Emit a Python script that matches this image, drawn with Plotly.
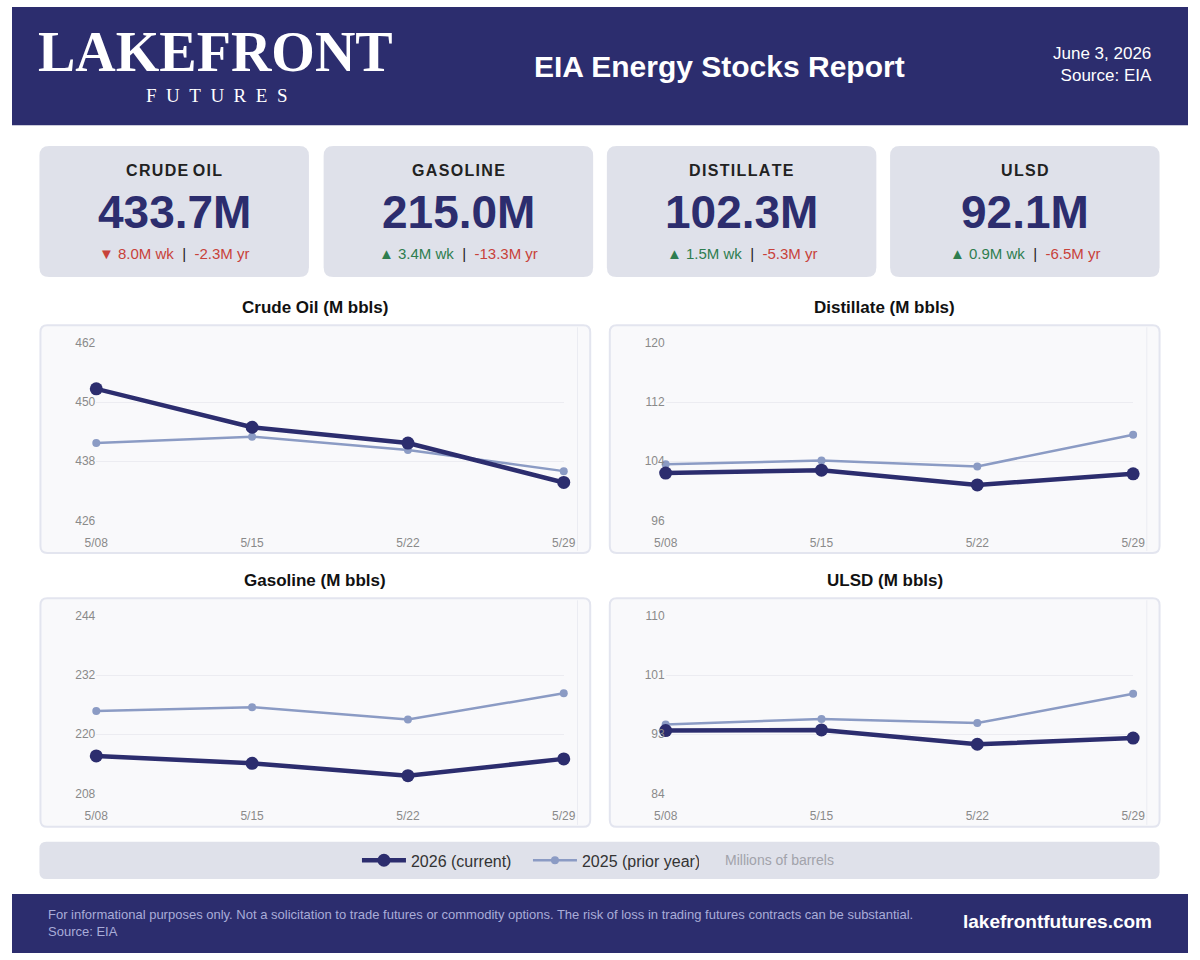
import plotly.graph_objects as go

W, H = 1200, 960

# weekly stocks, millions of barrels
weeks = ['5/08', '5/15', '5/22', '5/29']

crude_2026 = [452.7, 444.9, 441.7, 433.7]
crude_2025 = [441.7, 443.0, 440.3, 436.0]
gasoline_2026 = [215.6, 214.1, 211.6, 215.0]
gasoline_2025 = [224.7, 225.5, 223.0, 228.3]
distillate_2026 = [102.4, 102.8, 100.8, 102.3]
distillate_2025 = [103.6, 104.1, 103.3, 107.6]
ulsd_2026 = [93.2, 93.3, 91.2, 92.1]
ulsd_2025 = [94.1, 94.9, 94.3, 98.6]

kpi_names = ['CRUDE OIL', 'GASOLINE', 'DISTILLATE', 'ULSD']
chart_titles = ['Crude Oil (M bbls)', 'Distillate (M bbls)',
                'Gasoline (M bbls)', 'ULSD (M bbls)']
y_ranges = [[426, 462], [96, 120], [208, 244], [84, 110]]

NAVY = '#2c2d6e'
LIGHT = '#8b9bc4'
RED = '#c8423a'
GREEN = '#2e7d4f'
CARD = '#dfe1ea'
FONT = 'Liberation Sans, Arial, sans-serif'
SERIF = 'Liberation Serif, DejaVu Serif, serif'


def px(x):
    return x / W


def py(y):
    return 1 - y / H


# rounded rectangle path in paper coords, from pixel box
def rrect(x0, y0, x1, y1, r):
    pts = [
        ('M', x0 + r, y0), ('L', x1 - r, y0), ('Q', x1, y0, x1, y0 + r),
        ('L', x1, y1 - r), ('Q', x1, y1, x1 - r, y1), ('L', x0 + r, y1),
        ('Q', x0, y1, x0, y1 - r), ('L', x0, y0 + r), ('Q', x0, y0, x0 + r, y0),
    ]
    out = ''
    for p in pts:
        coords = p[1:]
        s = ' '.join('%.5f,%.5f' % (px(coords[i]), py(coords[i + 1]))
                     for i in range(0, len(coords), 2))
        out += '%s%s ' % (p[0], s)
    return out + 'Z'


fig = go.Figure()
shapes = []
annotations = []

# header / footer bands
shapes.append(dict(type='rect', xref='paper', yref='paper', x0=0, x1=1,
                   y0=py(120), y1=1, fillcolor=NAVY, line_width=0, layer='below'))
shapes.append(dict(type='rect', xref='paper', yref='paper', x0=0, x1=1,
                   y0=0, y1=py(900), fillcolor=NAVY, line_width=0, layer='below'))

annotations.append(dict(x=px(208), y=py(46), xref='paper', yref='paper', xanchor='center',
                        yanchor='middle', showarrow=False, text='<b>LAKEFRONT</b>',
                        font=dict(family=SERIF, size=56, color='white')))
annotations.append(dict(x=px(209), y=py(90), xref='paper', yref='paper', xanchor='center',
                        yanchor='middle', showarrow=False,
                        text='\u2002'.join('FUTURES'),
                        font=dict(family=SERIF, size=19, color='white')))
annotations.append(dict(x=px(722), y=py(60), xref='paper', yref='paper', xanchor='center',
                        yanchor='middle', showarrow=False, text='<b>EIA Energy Stocks Report</b>',
                        font=dict(family=FONT, size=30, color='white')))
annotations.append(dict(x=px(1165), y=py(58), xref='paper', yref='paper', xanchor='right',
                        yanchor='middle', showarrow=False, align='right',
                        text='June 3, 2026<br>Source: EIA',
                        font=dict(family=FONT, size=17, color='white')))

# KPI cards
current = [crude_2026, gasoline_2026, distillate_2026, ulsd_2026]
prior = [crude_2025, gasoline_2025, distillate_2025, ulsd_2025]
card_x = [(28, 303), (318, 593), (607, 882), (896, 1171)]
for i, name in enumerate(kpi_names):
    x0, x1 = card_x[i]
    cx = (x0 + x1) / 2
    shapes.append(dict(type='path', xref='paper', yref='paper', path=rrect(x0, 141, x1, 274, 10),
                       fillcolor=CARD, line_width=0, layer='below'))
    last = current[i][-1]
    wk = last - current[i][-2]
    yr = last - prior[i][-1]
    wk_col = GREEN if wk >= 0 else RED
    yr_col = GREEN if yr >= 0 else RED
    arrow = '\u25b2' if wk >= 0 else '\u25bc'
    sub = ('<span style="color:%s">%s %.1fM wk</span>  <span style="color:#222">|</span>  '
           '<span style="color:%s">%+.1fM yr</span>') % (wk_col, arrow, abs(wk), yr_col, yr)
    annotations.append(dict(x=px(cx), y=py(166), xref='paper', yref='paper', showarrow=False,
                            xanchor='center', yanchor='middle',
                            text='<b>%s</b>' % '\u200a'.join(name).replace('\u200a \u200a', ' '),
                            font=dict(family=FONT, size=16, color='#222')))
    annotations.append(dict(x=px(cx), y=py(208), xref='paper', yref='paper', showarrow=False,
                            xanchor='center', yanchor='middle', text='<b>%.1fM</b>' % last,
                            font=dict(family=FONT, size=46, color=NAVY)))
    annotations.append(dict(x=px(cx), y=py(250), xref='paper', yref='paper', showarrow=False,
                            xanchor='center', yanchor='middle', text=sub,
                            font=dict(family=FONT, size=15, color=RED)))

# chart panels: crude, distillate, gasoline, ulsd
series = [(crude_2026, crude_2025), (distillate_2026, distillate_2025),
          (gasoline_2026, gasoline_2025), (ulsd_2026, ulsd_2025)]
panels = [(29, 323, 590, 554), (610, 323, 1171, 554),
          (29, 600, 590, 832), (610, 600, 1171, 832)]

layout_axes = {}
for i, (cur, pri) in enumerate(series):
    left, top, right, bottom = panels[i]
    n = '' if i == 0 else str(i + 1)
    shapes.append(dict(type='path', xref='paper', yref='paper', path=rrect(left, top, right, bottom, 7),
                       fillcolor='#f9f9fb', line=dict(color='#e3e5ef', width=2), layer='below'))
    shapes.append(dict(type='line', xref='paper', yref='paper', x0=px(right - 13), x1=px(right - 13),
                       y0=py(top + 2), y1=py(bottom - 2), line=dict(color='#ebecf2', width=1),
                       layer='below'))
    annotations.append(dict(x=px((left + right) / 2), y=py(top - 18), xref='paper', yref='paper',
                            showarrow=False, xanchor='center', yanchor='middle',
                            text='<b>%s</b>' % chart_titles[i],
                            font=dict(family=FONT, size=17, color='#111')))

    fig.add_trace(go.Scatter(x=weeks, y=pri, mode='lines+markers', name='2025 (prior year)',
                             line=dict(color=LIGHT, width=2.5), marker=dict(size=8, color=LIGHT),
                             xaxis='x' + n, yaxis='y' + n, cliponaxis=False,
                             showlegend=(i == 0), legendrank=2))
    fig.add_trace(go.Scatter(x=weeks, y=cur, mode='lines+markers', name='2026 (current)',
                             line=dict(color=NAVY, width=4.5), marker=dict(size=13, color=NAVY),
                             xaxis='x' + n, yaxis='y' + n, cliponaxis=False,
                             showlegend=(i == 0), legendrank=1))

    lo, hi = y_ranges[i]
    ticks = [lo + (hi - lo) * k / 3 for k in range(4)]
    layout_axes['xaxis' + n] = dict(domain=[px(left + 57), px(right - 27)], anchor='y' + n,
                                    range=[0, 3], showgrid=False, zeroline=False, showline=False,
                                    tickfont=dict(family=FONT, size=12, color='#8a8a8a'),
                                    ticklabelstandoff=14, fixedrange=True)
    layout_axes['yaxis' + n] = dict(domain=[py(top + 198), py(top + 18)], anchor='x' + n,
                                    range=[lo, hi], tickvals=ticks,
                                    ticktext=['%.0f' % t for t in ticks],
                                    showgrid=True, gridcolor='#ececf1', gridwidth=1,
                                    zeroline=False, showline=False,
                                    tickfont=dict(family=FONT, size=12, color='#8a8a8a'),
                                    fixedrange=True)

# legend bar
shapes.append(dict(type='path', xref='paper', yref='paper', path=rrect(28, 847, 1171, 885, 7),
                   fillcolor=CARD, line_width=0, layer='below'))
annotations.append(dict(x=px(726), y=py(866), xref='paper', yref='paper', showarrow=False,
                        xanchor='left', yanchor='middle', text='Millions of barrels',
                        font=dict(family=FONT, size=14, color='#a2a3ab')))

# footer text
annotations.append(dict(x=px(35), y=py(930), xref='paper', yref='paper', showarrow=False,
                        xanchor='left', yanchor='middle', align='left',
                        text='For informational purposes only. Not a solicitation to trade futures or '
                             'commodity options. The risk of loss in trading futures contracts can be '
                             'substantial.<br>Source: EIA',
                        font=dict(family=FONT, size=13, color='#a9acd8')))
annotations.append(dict(x=px(1165), y=py(928), xref='paper', yref='paper', showarrow=False,
                        xanchor='right', yanchor='middle', text='<b>lakefrontfutures.com</b>',
                        font=dict(family=FONT, size=19, color='white')))

fig.update_layout(
    width=W, height=H, margin=dict(l=0, r=0, t=0, b=0),
    paper_bgcolor='white', plot_bgcolor='rgba(0,0,0,0)',
    shapes=shapes, annotations=annotations,
    showlegend=True,
    legend=dict(orientation='h', x=px(352), y=py(866), xanchor='left', yanchor='middle',
                bgcolor='rgba(0,0,0,0)', font=dict(family=FONT, size=16, color='#333'),
                traceorder='normal', itemwidth=44, entrywidth=112),
    **layout_axes
)

fig.write_html('out.html', config=dict(displayModeBar=False),
               post_script="document.body.style.margin='0';document.body.style.overflow='hidden';")
